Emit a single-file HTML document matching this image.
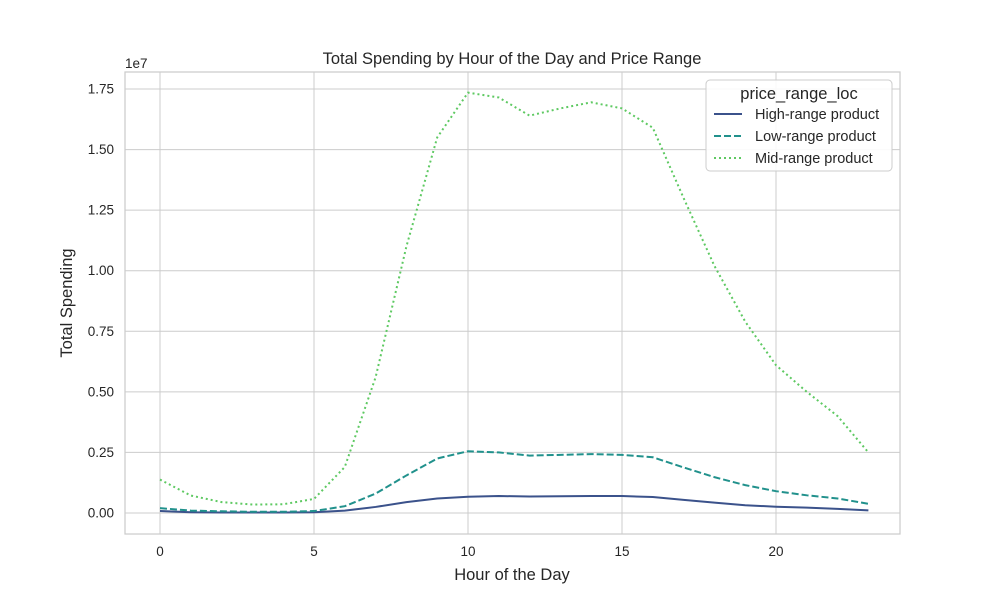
<!DOCTYPE html>
<html><head><meta charset="utf-8"><style>
body{margin:0;background:#fff;font-family:"Liberation Sans",sans-serif}
text{font-family:"Liberation Sans",sans-serif;fill:#262626}
</style></head><body>
<svg id="c" width="1000" height="600"></svg>
<script>
const hours=[0,1,2,3,4,5,6,7,8,9,10,11,12,13,14,15,16,17,18,19,20,21,22,23];
const highRange=[0.08,0.03,0.02,0.02,0.02,0.03,0.1,0.25,0.45,0.6,0.67,0.7,0.68,0.69,0.7,0.7,0.66,0.54,0.43,0.32,0.26,0.22,0.17,0.11];
const lowRange=[0.2,0.1,0.07,0.05,0.05,0.08,0.28,0.8,1.55,2.25,2.55,2.5,2.37,2.4,2.43,2.4,2.3,1.88,1.48,1.15,0.9,0.73,0.6,0.38];
const midRange=[1.38,0.72,0.45,0.35,0.36,0.58,1.9,5.6,11.0,15.5,17.35,17.15,16.4,16.7,16.95,16.7,15.9,13.0,10.2,7.9,6.1,5.0,4.0,2.5];
const xTicks=[0,5,10,15,20];
const yTicks=[0,2.5,5,7.5,10,12.5,15,17.5];
const yTickLabels=["0.00","0.25","0.50","0.75","1.00","1.25","1.50","1.75"];
const NS="http://www.w3.org/2000/svg";
const svg=document.getElementById('c');
const L=125,R=900,T=72,B=534;
const xs=h=>160+(h)*(314-160)/5;
const ys=v=>513-v*(513-89)/17.5;
function el(t,a,p){const e=document.createElementNS(NS,t);for(const k in a)e.setAttribute(k,a[k]);(p||svg).appendChild(e);return e;}
const bg=el('rect',{x:L,y:T,width:R-L,height:B-T,fill:'#fff',stroke:'#ccc','stroke-width':1.25});


xTicks.forEach(t=>{
 const g=el('line',{x1:xs(t),x2:xs(t),y1:T,y2:B,stroke:'#ccc','stroke-width':1});
 
 
 const tx=el('text',{x:xs(t),y:556,'text-anchor':'middle','font-size':13.5});tx.textContent=t;
 
 
});
yTicks.forEach((t,i)=>{
 const g=el('line',{x1:L,x2:R,y1:ys(t),y2:ys(t),stroke:'#ccc','stroke-width':1});
 
 
 const tx=el('text',{x:114,y:ys(t)+4.5,'text-anchor':'end','font-size':13.5});tx.textContent=yTickLabels[i];
 
 
});
function series(vals,color,dash,name){
 const p=el('polyline',{points:hours.map((h,i)=>xs(h)+','+ys(vals[i])).join(' '),fill:'none',stroke:color,'stroke-width':2,'stroke-dasharray':dash});
 
 
}
series(highRange,'#3b528b','','high-range-line');
series(lowRange,'#21918c','7,3','low-range-line');
series(midRange,'#5ec962','2,3','mid-range-line');
</script>
<svg width="1000" height="600" style="position:absolute;left:0;top:0">
<text x="512" y="64" text-anchor="middle" font-size="16.5">Total Spending by Hour of the Day and Price Range</text>
<text x="512" y="580" text-anchor="middle" font-size="16.5">Hour of the Day</text>
<text x="72" y="303" text-anchor="middle" font-size="16.5" transform="rotate(-90 72 303)">Total Spending</text>
<text x="125" y="68" font-size="13.5">1e7</text>
<g>
<rect x="706" y="80" width="186" height="91" rx="4" fill="#fff" fill-opacity="0.9" stroke="#ccc"/>
<text x="799" y="99" text-anchor="middle" font-size="16.5">price_range_loc</text>
<line x1="714" x2="742" y1="114" y2="114" stroke="#3b528b" stroke-width="2"/>
<text x="755" y="119" font-size="14.5">High-range product</text>
<line x1="714" x2="742" y1="136" y2="136" stroke="#21918c" stroke-width="2" stroke-dasharray="7,3"/>
<text x="755" y="141" font-size="14.5">Low-range product</text>
<line x1="714" x2="742" y1="158" y2="158" stroke="#5ec962" stroke-width="2" stroke-dasharray="2,3"/>
<text x="755" y="163" font-size="14.5">Mid-range product</text>
</g>
</svg>
</body></html>
